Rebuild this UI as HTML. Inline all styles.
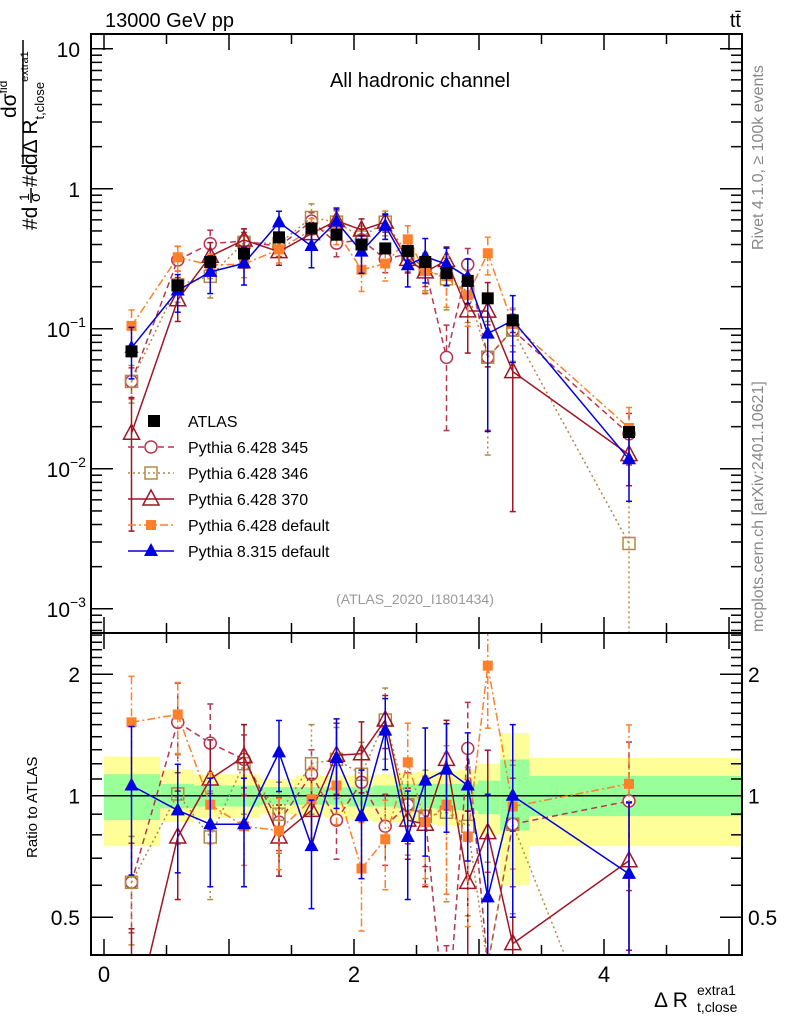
<!DOCTYPE html>
<html><head><meta charset="utf-8">
<style>
html,body{margin:0;padding:0;background:#fff;width:786px;height:1024px;overflow:hidden;}
svg{display:block;font-family:"Liberation Sans",sans-serif;}
</style></head>
<body>
<svg id="chart" width="786" height="1024" viewBox="0 0 786 1024" xmlns="http://www.w3.org/2000/svg">
<defs>
<clipPath id="clipMain"><rect x="91" y="34" width="651" height="599"/></clipPath>
<clipPath id="clipRatio"><rect x="91" y="634" width="651" height="321"/></clipPath>
</defs>
<g id="bands" clip-path="url(#clipRatio)"></g>
<g id="marks"></g>
<g id="axes"></g>
<text x="105" y="27" font-size="20">13000 GeV pp</text>
<text x="741" y="27" font-size="20" text-anchor="end">tt̄</text>
<text x="420" y="87" font-size="20" text-anchor="middle">All hadronic channel</text>
<text x="415" y="604" font-size="14" fill="#999" text-anchor="middle">(ATLAS_2020_I1801434)</text>
<text transform="translate(763,250) rotate(-90)" font-size="16" fill="#888">Rivet 4.1.0, ≥ 100k events</text>
<text transform="translate(763,632) rotate(-90)" font-size="16" fill="#888">mcplots.cern.ch [arXiv:2401.10621]</text>
<g font-size="21">
<text transform="translate(37,230) rotate(-90)">#d</text>
<text transform="translate(29,201) rotate(-90)" font-size="14">1</text>
<line x1="31" y1="203" x2="31" y2="188" stroke="#000" stroke-width="1.5"/>
<text transform="translate(40,202) rotate(-90)" font-size="15">σ</text>
<text transform="translate(37,187) rotate(-90)">#d</text>
<line x1="23" y1="40" x2="23" y2="164" stroke="#000" stroke-width="1.5"/>
<text transform="translate(16,118) rotate(-90)">dσ<tspan font-size="12" dy="-9">fid</tspan></text>
<text transform="translate(37,165) rotate(-90)">dΔ R<tspan font-size="13" dy="7">t,close</tspan><tspan font-size="11" dy="-16">extra1</tspan></text>
</g>
<text transform="translate(37,858) rotate(-90)" font-size="15">Ratio to ATLAS</text>
<g>
<text x="654" y="1007" font-size="21">Δ R</text>
<text x="697" y="1012" font-size="14">t,close</text>
<text x="697" y="995" font-size="14">extra1</text>
</g>
<g id="legend"></g>
</svg>
<script>
const xCenters=[0.22,0.59,0.85,1.12,1.4,1.66,1.86,2.06,2.25,2.43,2.57,2.74,2.91,3.07,3.27,4.2];
const binEdges=[0,0.45,0.72,1.0,1.25,1.53,1.77,1.95,2.15,2.34,2.5,2.66,2.83,2.99,3.17,3.4,5.1];
const atlasVals=[0.069,0.204,0.30,0.345,0.45,0.52,0.47,0.40,0.375,0.36,0.30,0.25,0.22,0.165,0.115,0.0183];
const atlasErr=[0.1,0.05,0.05,0.05,0.05,0.05,0.05,0.05,0.05,0.05,0.06,0.06,0.07,0.08,0.1,0.1];
const greenUp=[1.13,1.07,1.06,1.06,1.05,1.05,1.05,1.05,1.06,1.07,1.07,1.07,1.07,1.09,1.23,1.12];
const greenDn=[0.87,0.93,0.94,0.94,0.95,0.95,0.95,0.94,0.94,0.93,0.93,0.92,0.92,0.90,0.82,0.89];
const yellowUp=[1.25,1.16,1.13,1.13,1.1,1.12,1.12,1.12,1.13,1.14,1.15,1.15,1.16,1.2,1.43,1.24];
const yellowDn=[0.75,0.86,0.88,0.88,0.9,0.89,0.88,0.87,0.86,0.86,0.85,0.84,0.84,0.8,0.6,0.75];
const ratio345=[0.61,1.52,1.35,1.23,0.86,1.13,0.87,1.08,0.84,0.95,0.89,0.25,1.31,0.38,0.85,0.97];
const ratio346=[0.61,1.01,0.79,1.20,0.90,1.20,1.23,1.13,1.54,0.95,0.89,0.91,0.84,0.38,0.85,0.16];
const ratio370=[0.26,0.79,1.10,1.25,0.79,0.92,1.26,1.27,1.54,0.87,0.85,1.23,0.61,0.81,0.43,0.69];
const ratioDef6=[1.52,1.59,0.95,0.84,0.82,0.98,1.06,0.66,0.78,1.21,0.86,0.95,0.79,2.1,0.94,1.07];
const ratioPy8=[1.06,0.92,0.85,0.85,1.28,0.75,1.24,0.89,1.45,0.79,1.09,1.16,1.06,0.56,1.0,0.64];
const err345=[0.25,0.25,0.25,0.15,0.15,0.15,0.2,0.2,0.2,0.2,0.25,0.7,0.3,0.7,0.3,0.4];
const err346=[0.3,0.25,0.3,0.25,0.2,0.25,0.2,0.2,0.2,0.25,0.3,0.4,0.4,0.8,0.4,1.0];
const err370=[0.8,0.3,0.25,0.2,0.2,0.2,0.2,0.2,0.15,0.2,0.3,0.25,0.5,0.6,0.9,0.4];
const errDef6=[0.3,0.2,0.2,0.2,0.2,0.2,0.2,0.3,0.25,0.25,0.3,0.4,0.4,0.3,0.3,0.4];
const errPy8=[0.4,0.3,0.3,0.3,0.2,0.3,0.25,0.3,0.2,0.3,0.35,0.3,0.35,0.8,0.5,0.5];

const NS="http://www.w3.org/2000/svg";
const X=u=>104+125*u;
const YM=v=>188.8-Math.log10(v)*140;
const YR=r=>795.7-Math.log2(r)*121.5;
function mk(tag,attrs,parent){const e=document.createElementNS(NS,tag);for(const k in attrs)e.setAttribute(k,attrs[k]);parent.appendChild(e);return e;}
const bands=document.getElementById('bands'),marks=document.getElementById('marks'),axes=document.getElementById('axes'),legend=document.getElementById('legend');

for(let i=0;i<xCenters.length;i++){
  const x0=X(binEdges[i]),x1=X(binEdges[i+1]);
  const y=mk('rect',{x:x0,y:YR(yellowUp[i]),width:x1-x0,height:YR(yellowDn[i])-YR(yellowUp[i]),fill:'#ffff99'},bands);
  
  
  const g=mk('rect',{x:x0,y:YR(greenUp[i]),width:x1-x0,height:YR(greenDn[i])-YR(greenUp[i]),fill:'#99ff99'},bands);
  
  
}
mk('line',{x1:91,x2:742,y1:YR(1),y2:YR(1),stroke:'#000','stroke-width':1.5},bands);

const series=[
 {name:'Pythia 6.428 345',key:'py6-345',ratio:ratio345,err:err345,color:'#b5364f',dash:'6,4',marker:'circle',fill:false},
 {name:'Pythia 6.428 346',key:'py6-346',ratio:ratio346,err:err346,color:'#b08a45',dash:'2,3',marker:'square',fill:false},
 {name:'Pythia 6.428 370',key:'py6-370',ratio:ratio370,err:err370,color:'#a01525',dash:'',marker:'triangle',fill:false},
 {name:'Pythia 6.428 default',key:'py6-default',ratio:ratioDef6,err:errDef6,color:'#ff7f2a',dash:'8,3,2,3',marker:'square',fill:true},
 {name:'Pythia 8.315 default',key:'py8-default',ratio:ratioPy8,err:errPy8,color:'#0000e0',dash:'',marker:'triangle',fill:true}
];
function marker(s,x,y,parent){
  const f=s.fill?s.color:'none';
  let e;
  if(s.marker==='circle') e=mk('circle',{cx:x,cy:y,r:6,fill:'#fff',stroke:s.color,'stroke-width':1.5},parent);
  else if(s.marker==='square') e=s.fill?mk('rect',{x:x-5,y:y-5,width:10,height:10,fill:f},parent):mk('rect',{x:x-6,y:y-6,width:12,height:12,fill:'none',stroke:s.color,'stroke-width':1.5},parent);
  else e=s.fill?mk('path',{d:`M${x},${y-8}L${x+7},${y+5}L${x-7},${y+5}Z`,fill:f},parent):mk('path',{d:`M${x},${y-9}L${x+8},${y+6}L${x-8},${y+6}Z`,fill:'none',stroke:s.color,'stroke-width':1.5},parent);
  return e;
}
// clip a segment to y range [yTop,yBot]
function clipSeg(x1,y1,x2,y2,yTop,yBot){
  function cut(xa,ya,xb,yb,yl){return [xa+(xb-xa)*(yl-ya)/(yb-ya),yl];}
  if((y1>yBot&&y2>yBot)||(y1<yTop&&y2<yTop))return null;
  let a=[x1,y1],b=[x2,y2];
  if(a[1]>yBot)a=cut(x1,y1,x2,y2,yBot); else if(a[1]<yTop)a=cut(x1,y1,x2,y2,yTop);
  if(b[1]>yBot)b=cut(x1,y1,x2,y2,yBot); else if(b[1]<yTop)b=cut(x1,y1,x2,y2,yTop);
  return [a,b];
}
function drawPanel(clip,ymap,useRatio,yTop,yBot){
  const g=mk('g',{'clip-path':`url(#${clip})`},marks);
  const cl=y=>Math.min(Math.max(y,yTop),yBot);
  series.forEach(s=>{
    const sg=mk('g',{},g);
    
    
    const vals=xCenters.map((u,i)=>useRatio?s.ratio[i]:s.ratio[i]*atlasVals[i]);
    let d='';
    for(let i=0;i<vals.length-1;i++){
      const c=clipSeg(X(xCenters[i]),ymap(vals[i]),X(xCenters[i+1]),ymap(vals[i+1]),yTop,yBot);
      if(c)d+=`M${c[0][0]},${c[0][1]}L${c[1][0]},${c[1][1]}`;
    }
    mk('path',{d:d,fill:'none',stroke:s.color,'stroke-width':1.5,'stroke-dasharray':s.dash},sg);
    vals.forEach((v,i)=>{
      const x=X(xCenters[i]),e=s.err[i];
      const lo=Math.max(v*(1-e),v*0.01);
      const yu=cl(ymap(v*(1+e))),yl=cl(ymap(lo)),yc=ymap(v);
      mk('line',{x1:x,x2:x,y1:yu,y2:yl,stroke:s.color,'stroke-width':1.5,'stroke-dasharray':s.dash},sg);
      mk('line',{x1:x-3,x2:x+3,y1:yu,y2:yu,stroke:s.color,'stroke-width':1.5},sg);
      mk('line',{x1:x-3,x2:x+3,y1:yl,y2:yl,stroke:s.color,'stroke-width':1.5},sg);
      if(yc>yTop-10&&yc<yBot+10){
        const m=marker(s,x,yc,sg);
        
        
      }
    });
  });
  if(!useRatio){
    const ag=mk('g',{},g);
    
    
    atlasVals.forEach((v,i)=>{
      const x=X(xCenters[i]);
      mk('line',{x1:x,x2:x,y1:YM(v*(1+atlasErr[i])),y2:YM(v*(1-atlasErr[i])),stroke:'#000','stroke-width':1.5},ag);
      const r=mk('rect',{x:x-6,y:YM(v)-6,width:12,height:12,fill:'#000'},ag);
      
      
    });
  }
}
drawPanel('clipMain',YM,false,30,640);
drawPanel('clipRatio',YR,true,628,960);

mk('rect',{x:91,y:34,width:651,height:599,fill:'none',stroke:'#000','stroke-width':2},axes);
mk('rect',{x:91,y:633,width:651,height:322,fill:'none',stroke:'#000','stroke-width':2},axes);
for(let k=0;k<=10;k++){
  const u=k*0.5,x=X(u),maj=(k%2===0);
  const L=maj?16:10;
  [[34,1],[633,-1],[633,1],[955,-1]].forEach(([y,d])=>mk('line',{x1:x,x2:x,y1:y,y2:y+d*L,stroke:'#000','stroke-width':1.5},axes));
}
[[0,'0'],[2,'2'],[4,'4']].forEach(([u,t])=>{const e=mk('text',{x:X(u),y:982,'font-size':22,'text-anchor':'middle'},axes);e.textContent=t;});
for(let d=-4;d<=1;d++){
  for(let k=1;k<=9;k++){
    const v=k*Math.pow(10,d),y=YM(v);
    if(y<34||y>633)continue;
    const L=k===1?22:11;
    mk('line',{x1:91,x2:91+L,y1:y,y2:y,stroke:'#000','stroke-width':1.5},axes);
    mk('line',{x1:742,x2:742-L,y1:y,y2:y,stroke:'#000','stroke-width':1.5},axes);
  }
}
const mainLabels=[[10,'10',''],[1,'1',''],[0.1,'10','−1'],[0.01,'10','−2'],[0.001,'10','−3']];
mainLabels.forEach(([v,b,s])=>{
  const t=mk('text',{x:s?70:80,y:YM(v)+8,'font-size':21,'text-anchor':'end'},axes);
  t.textContent=b;
  
  
  if(s){const e=mk('text',{x:70,y:YM(v)-2,'font-size':14},axes);e.textContent=s;}
});
for(let k=4;k<=25;k++){
  const r=k/10,y=YR(r);if(y<634||y>955)continue;
  const maj=(k===5||k===10||k===20);
  const L=maj?22:11;
  mk('line',{x1:91,x2:91+L,y1:y,y2:y,stroke:'#000','stroke-width':1.5},axes);
  mk('line',{x1:742,x2:742-L,y1:y,y2:y,stroke:'#000','stroke-width':1.5},axes);
}
[[2,'2'],[1,'1'],[0.5,'0.5']].forEach(([r,t])=>{
  const a=mk('text',{x:80,y:YR(r)+8,'font-size':21,'text-anchor':'end'},axes);a.textContent=t;
  
  const b=mk('text',{x:748,y:YR(r)+8,'font-size':21},axes);b.textContent=t;
  
});
const legendItems=[{name:'ATLAS',key:'atlas'}].concat(series);
legendItems.forEach((s,i)=>{
  const y=421+i*26;
  const g=mk('g',{},legend);
  
  
  if(s.key==='atlas'){mk('rect',{x:148,y:y-6,width:12,height:12,fill:'#000'},g);}
  else{
    mk('line',{x1:128,x2:174,y1:y,y2:y,stroke:s.color,'stroke-width':1.5,'stroke-dasharray':s.dash},g);
    marker(s,151,y,g);
  }
  const t=mk('text',{x:188,y:y+6,'font-size':16},g);t.textContent=s.name;
});
</script>
</body></html>
